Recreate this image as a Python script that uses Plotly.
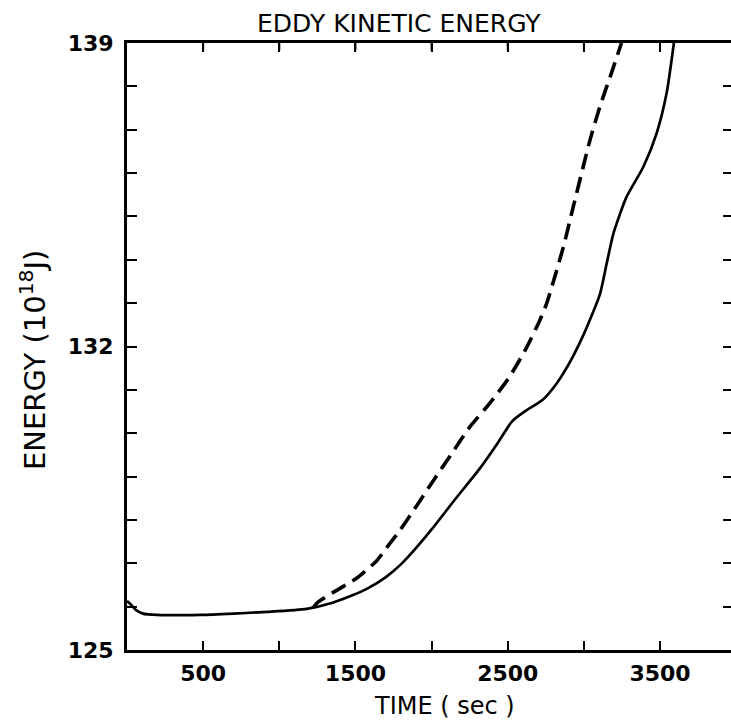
import plotly.graph_objects as go

# Eddy kinetic energy (10^18 J) against time (s)
time_solid = [0, 25, 60, 105, 200, 480, 700, 920, 1180, 1350, 1480, 1580, 1700,
              1800, 1900, 2000, 2160, 2320, 2430, 2530, 2620, 2730, 2820, 2910,
              2975, 3020, 3105, 3150, 3195, 3280, 3390, 3477, 3543, 3591]
energy_solid = [126.13, 126.05, 125.92, 125.84, 125.81, 125.81, 125.84, 125.88,
                125.95, 126.09, 126.26, 126.42, 126.68, 126.98, 127.36, 127.78,
                128.50, 129.20, 129.75, 130.28, 130.52, 130.77, 131.14, 131.65,
                132.10, 132.45, 133.20, 133.92, 134.62, 135.45, 136.14, 136.91,
                137.84, 139.00]

time_dashed = [1221, 1250, 1350, 1510, 1640, 1705, 1792, 1880, 2010, 2130, 2250,
               2380, 2510, 2620, 2710, 2755, 2865, 2930, 2995, 3040, 3105, 3180,
               3247]
energy_dashed = [125.97, 126.09, 126.32, 126.66, 127.06, 127.36, 127.76, 128.21,
                 128.90, 129.52, 130.14, 130.68, 131.29, 131.95, 132.60, 132.99,
                 134.29, 135.22, 136.14, 136.76, 137.53, 138.30, 139.00]

x_tick_values = [500, 1000, 1500, 2000, 2500, 3000, 3500]
x_tick_labels = ["500", "", "1500", "", "2500", "", "3500"]
y_tick_values = list(range(125, 140))
y_tick_labels = [str(v) if v in (125, 132, 139) else "" for v in y_tick_values]
right_tick_values = list(range(126, 139))

x_range = [0, 3966]
y_range = [125, 139]

FONT = "DejaVu Sans"
INK = "black"

fig = go.Figure()
fig.add_trace(go.Scatter(
    x=time_solid, y=energy_solid, mode="lines",
    line=dict(color=INK, width=2.7, shape="spline", smoothing=0.6),
    showlegend=False,
))
# dashed run shares the same energy scale, drawn against the right-hand tick axis
fig.add_trace(go.Scatter(
    x=time_dashed, y=energy_dashed, mode="lines", yaxis="y2",
    line=dict(color=INK, width=3.6, dash="16px,8px", shape="spline", smoothing=0.6),
    showlegend=False,
))

# time ticks hanging down from the top edge of the frame (headless arrows)
top_ticks = [
    dict(x=v, y=y_range[1], xref="x", yref="y", text="", showarrow=True,
         arrowhead=0, arrowwidth=2, arrowcolor=INK, ax=0, ay=9,
         standoff=0, startstandoff=0)
    for v in x_tick_values
]

tick_font = dict(family=FONT, size=22, color=INK, weight="bold")

fig.update_layout(
    width=731, height=721,
    margin=dict(l=127, r=0, t=43, b=71),
    paper_bgcolor="white", plot_bgcolor="white",
    font=dict(family=FONT, color=INK, size=22),
    title=dict(text="EDDY KINETIC ENERGY", x=0.45, xref="paper", xanchor="center",
               y=1 - 23 / 721, yref="container", yanchor="middle",
               font=dict(family=FONT, size=25, color=INK)),
    xaxis=dict(
        range=x_range, showgrid=False, zeroline=False,
        showline=True, linecolor=INK, linewidth=3, mirror="ticks",
        ticks="inside", ticklen=9, tickwidth=2, tickcolor=INK,
        tickvals=x_tick_values, ticktext=x_tick_labels,
        tickfont=tick_font, ticklabelstandoff=2,
    ),
    yaxis=dict(
        range=y_range, showgrid=False, zeroline=False,
        showline=True, linecolor=INK, linewidth=3,
        ticks="inside", ticklen=10, tickwidth=2, tickcolor=INK,
        tickvals=y_tick_values, ticktext=y_tick_labels,
        tickfont=tick_font, ticklabelstandoff=6,
    ),
    yaxis2=dict(
        range=y_range, overlaying="y", side="right", anchor="x",
        showgrid=False, zeroline=False, showline=False,
        ticks="inside", ticklen=8, tickwidth=2, tickcolor=INK,
        tickvals=right_tick_values, showticklabels=False,
    ),
    annotations=top_ticks + [
        dict(text="TIME ( sec )", xref="paper", yref="paper",
             x=(444 - 127) / 604, y=-(706 - 650) / 607,
             xanchor="center", yanchor="middle", showarrow=False,
             font=dict(family=FONT, size=24, color=INK)),
        dict(text="ENERGY (10<sup>18</sup>J)", xref="paper", yref="paper",
             x=-(127 - 33) / 604, y=(650 - 360) / 607, textangle=-90,
             xanchor="center", yanchor="middle", showarrow=False,
             font=dict(family=FONT, size=29, color=INK)),
    ],
)

fig.write_html("out.html")
